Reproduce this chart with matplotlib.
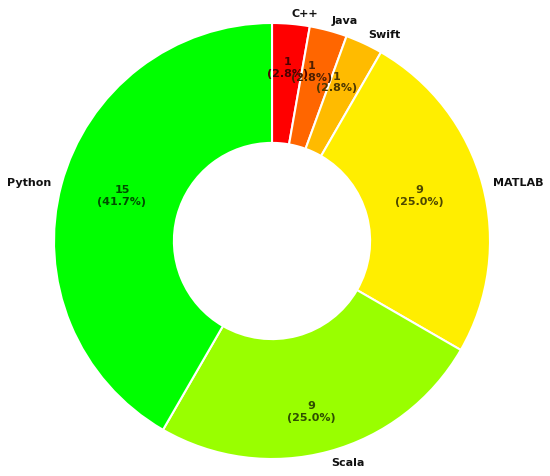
import numpy as np
import matplotlib
matplotlib.use("Agg")
import matplotlib.pyplot as plt
from matplotlib.colors import to_rgb

# language counts, clockwise from the top
languages = ["C++", "Java", "Swift", "MATLAB", "Scala", "Python"]
counts = [1, 1, 1, 9, 9, 15]
colors = ["#FF0000", "#FF6600", "#FFBB00", "#FFEE00", "#99FF00", "#00FF00"]

# where each count/percent text sits (radius, angle nudge in degrees)
pct_radius = [0.8, 0.8, 0.79, 0.71, 0.8, 0.72]
pct_shift = [0, 2, 3, 2.3, -2, -2]

total = sum(counts)


def fmt(pct):
    n = int(round(pct * total / 100.0))
    return f"{n}\n({pct:.1f}%)"


fig = plt.figure(figsize=(5.5, 4.77), dpi=100)
ax = fig.add_axes([0, 0, 1, 1])

wedges, texts, autotexts = ax.pie(
    counts, labels=languages, colors=colors, startangle=90, counterclock=False,
    autopct=fmt, pctdistance=0.8, labeldistance=1.05,
    wedgeprops=dict(width=0.55, edgecolor="white", linewidth=1.5),
    textprops=dict(fontsize=8, fontweight="bold"))

for t in texts:
    t.set_color("#111111")

for w, t, r, s in zip(wedges, autotexts, pct_radius, pct_shift):
    mid = np.deg2rad((w.theta1 + w.theta2) / 2 + s)
    t.set_position((r * np.cos(mid), r * np.sin(mid)))
    t.set_color(tuple(c * 0.3 for c in to_rgb(w.get_facecolor())))

ax.set_aspect("equal")
ax.set_xlim(-272 / 218, 278 / 218)
ax.set_ylim(-235 / 218, 242 / 218)
ax.axis("off")

fig.savefig("out.png", dpi=100)
